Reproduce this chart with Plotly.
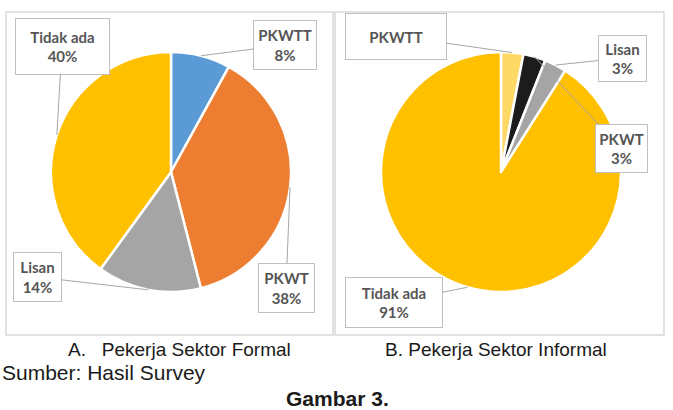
import math
import plotly.graph_objects as go

W, H = 673, 410

# ---------------- data ----------------
categories = ["PKWTT", "PKWT", "Lisan", "Tidak ada"]
formal_values = [8, 38, 14, 40]
informal_values = [3, 3, 3, 91]
informal_show_pct = [False, True, True, True]
formal_show_pct = [True, True, True, True]

formal_colors = ["#5B9BD5", "#ED7D31", "#A5A5A5", "#FFC000"]
informal_colors = ["#FFD966", "#1C1C1C", "#A5A5A5", "#FFC000"]

caption_a = "A.   Pekerja Sektor Formal"
caption_b = "B. Pekerja Sektor Informal"
source_text = "Sumber: Hasil Survey"
figure_title = "Gambar 3."

# ---------------- layout (pixels) ----------------
PIE_R = 120
left_center = (171, 172)
right_center = (501, 172)

# label box centre x, centre y, width, height (pixels)
formal_boxes = {
    "PKWTT": (285, 45, 62, 48),
    "PKWT": (286, 288, 55, 48),
    "Lisan": (37, 277, 47, 48),
    "Tidak ada": (62, 46, 93, 55),
}
informal_boxes = {
    "PKWTT": (396, 36, 100, 45),
    "PKWT": (621, 148, 51, 47),
    "Lisan": (622, 58, 47, 45),
    "Tidak ada": (394, 302, 96, 49),
}


def px(x):
    return x / W


def py(y):
    return 1 - y / H


def pie_trace(values, colors, center):
    cx, cy = center
    return go.Pie(
        labels=categories,
        values=values,
        sort=False,
        direction="clockwise",
        rotation=0,
        textinfo="none",
        hoverinfo="label+percent",
        marker=dict(colors=colors, line=dict(color="white", width=2.5)),
        domain=dict(x=[px(cx - PIE_R), px(cx + PIE_R)],
                    y=[py(cy + PIE_R), py(cy - PIE_R)]),
        showlegend=False,
    )


label_font = dict(family="Lato, Carlito, Calibri, sans-serif", size=15,
                  color="#555555")


def label_annotations(values, center, boxes, show_pct):
    cx, cy = center
    total = float(sum(values))
    anns = []
    cum = 0.0
    for cat, v, sp in zip(categories, values, show_pct):
        mid = (cum + v / 2) / total
        cum += v
        th = 2 * math.pi * mid
        tx = cx + PIE_R * math.sin(th)
        ty = cy - PIE_R * math.cos(th)
        bx, by, bw, bh = boxes[cat]
        pct = round(100 * v / total)
        text = f"<b>{cat}</b>" + (f"<br><b>{pct}%</b>" if sp else "")
        anns.append(dict(
            x=px(tx), y=py(ty), xref="paper", yref="paper",
            ax=bx - tx, ay=by - ty, axref="pixel", ayref="pixel",
            showarrow=True, arrowhead=0, arrowwidth=1, arrowcolor="#A6A6A6",
            standoff=0, startstandoff=0,
            text=text, font=label_font, align="center",
            bgcolor="white", bordercolor="#BFBFBF", borderwidth=1,
            borderpad=0, width=bw, height=bh, valign="middle",
        ))
    return anns


fig = go.Figure()
fig.add_trace(pie_trace(formal_values, formal_colors, left_center))
fig.add_trace(pie_trace(informal_values, informal_colors, right_center))

annotations = []
annotations += label_annotations(formal_values, left_center, formal_boxes,
                                 formal_show_pct)
annotations += label_annotations(informal_values, right_center,
                                 informal_boxes, informal_show_pct)

cap_font = dict(family="Arial, Liberation Sans, sans-serif", size=19,
                color="#1A1A1A")
annotations += [
    dict(x=px(179), y=py(349), xref="paper", yref="paper", text=caption_a,
         showarrow=False, xanchor="center", yanchor="middle", font=cap_font),
    dict(x=px(496), y=py(349), xref="paper", yref="paper", text=caption_b,
         showarrow=False, xanchor="center", yanchor="middle", font=cap_font),
    dict(x=0, y=py(372), xref="paper", yref="paper", text=source_text,
         showarrow=False, xanchor="left", yanchor="middle",
         font=dict(family="Arial, Liberation Sans, sans-serif", size=21,
                   color="#1A1A1A")),
    dict(x=px(337), y=py(398), xref="paper", yref="paper",
         text=f"<b>{figure_title}</b>", showarrow=False, xanchor="center",
         yanchor="middle",
         font=dict(family="Arial, Liberation Sans, sans-serif", size=21,
                   color="#1A1A1A")),
]

panels = [(6, 12, 333, 335), (335, 12, 664, 335)]
shapes = [
    dict(type="rect", xref="paper", yref="paper",
         x0=px(x0), x1=px(x1), y0=py(y1), y1=py(y0),
         line=dict(color="#D9D9D9", width=1.5), layer="below")
    for (x0, y0, x1, y1) in panels
]

fig.update_layout(
    width=W, height=H,
    margin=dict(l=0, r=0, t=0, b=0),
    paper_bgcolor="white", plot_bgcolor="white",
    annotations=annotations, shapes=shapes,
)

fig.write_html("out.html")
